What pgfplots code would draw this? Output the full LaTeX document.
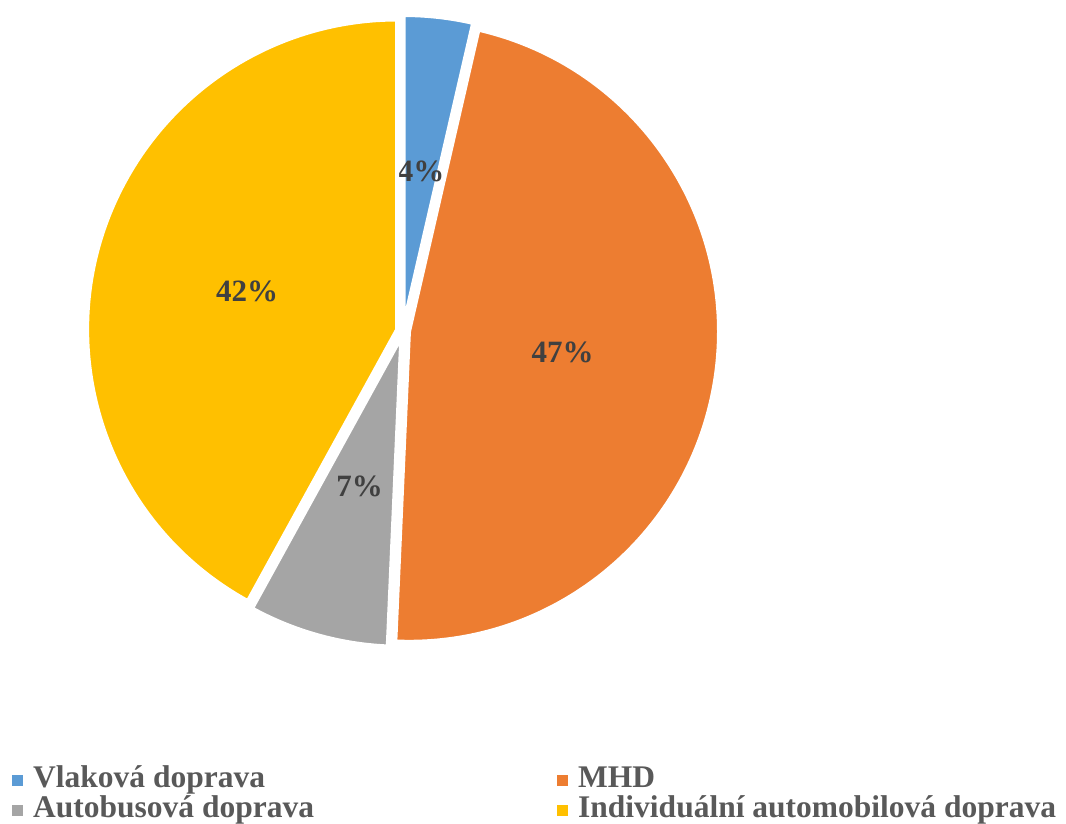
\documentclass[border=0pt]{standalone}
\usepackage{fontspec}
\setmainfont{Liberation Serif}
\usepackage{pgfplots}
\usepackage{pgfplotstable}
\pgfplotsset{compat=1.18}

\definecolor{pie0}{HTML}{5B9BD5}
\definecolor{pie1}{HTML}{ED7D31}
\definecolor{pie2}{HTML}{A5A5A5}
\definecolor{pie3}{HTML}{FFC000}
\definecolor{labeltext}{HTML}{404040}
\definecolor{legendtext}{HTML}{595959}

% share of each mode, in percent
\pgfplotstableread[col sep=comma]{
name,value
Vlaková doprava,3.6
MHD,47.1
Autobusová doprava,7.3
Individuální automobilová doprava,42.0
}\piedata

\begin{document}
\begin{tikzpicture}
\begin{axis}[
    at={(0,0)}, anchor=south west,
    width=1066bp, height=824bp, scale only axis,
    xmin=0, xmax=1066, ymin=0, ymax=824,
    hide axis, clip=false,
    legend columns=2,
    legend cell align=left,
    legend image code/.code={\fill[#1, draw=none] (0bp,-5.5bp) rectangle (11bp,5.5bp);},
    legend style={at={(axis cs:12,58)}, anchor=north west,
        draw=none, fill=none, inner sep=0pt,
        column sep=10bp, row sep=2bp,
        font=\fontsize{31.5bp}{36bp}\selectfont\bfseries, text=legendtext,
        nodes={inner sep=0pt, text height=21bp, text depth=7bp}},
]
\pgfplotsextra{
    \pgfplotstablegetrowsof{\piedata}
    \pgfmathtruncatemacro\lastrow{\pgfplotsretval-1}
    \gdef\cum{0}
    \foreach \i in {0,...,\lastrow}{
        \pgfplotstablegetelem{\i}{value}\of\piedata
        \let\val\pgfplotsretval
        \pgfmathsetmacro\sa{90-3.6*\cum}
        \pgfmathsetmacro\ea{90-3.6*(\cum+\val)}
        \pgfmathsetmacro\ma{(\sa+\ea)/2}
        \pgfmathsetmacro\cx{403+6*cos(\ma)}
        \pgfmathsetmacro\cy{493+6*sin(\ma)}
        \fill[pie\i, draw=white, line width=4bp, line join=round]
            (axis cs:\cx,\cy) -- ++(\sa:310bp)
            arc[start angle=\sa, end angle=\ea, radius=310bp] -- cycle;
        \pgfmathsetmacro\lx{403+161*cos(\ma)}
        \pgfmathsetmacro\ly{493+161*sin(\ma)}
        \node[text=labeltext, font=\fontsize{31bp}{36bp}\selectfont\bfseries]
            at (axis cs:\lx,\ly)
            {\pgfmathprintnumber[fixed,precision=0,assume math mode=true]{\val}\%};
        \pgfmathsetmacro\newcum{\cum+\val}
        \xdef\cum{\newcum}
    }
}
\addlegendimage{fill=pie0}
\addlegendentry{\makebox[514bp][l]{Vlaková doprava}}
\addlegendimage{fill=pie1}
\addlegendentry{MHD}
\addlegendimage{fill=pie2}
\addlegendentry{\makebox[514bp][l]{Autobusová doprava}}
\addlegendimage{fill=pie3}
\addlegendentry{Individuální automobilová doprava}
\end{axis}
\pgfresetboundingbox
\path (0,0) rectangle (1066bp,824bp);
\end{tikzpicture}
\end{document}
